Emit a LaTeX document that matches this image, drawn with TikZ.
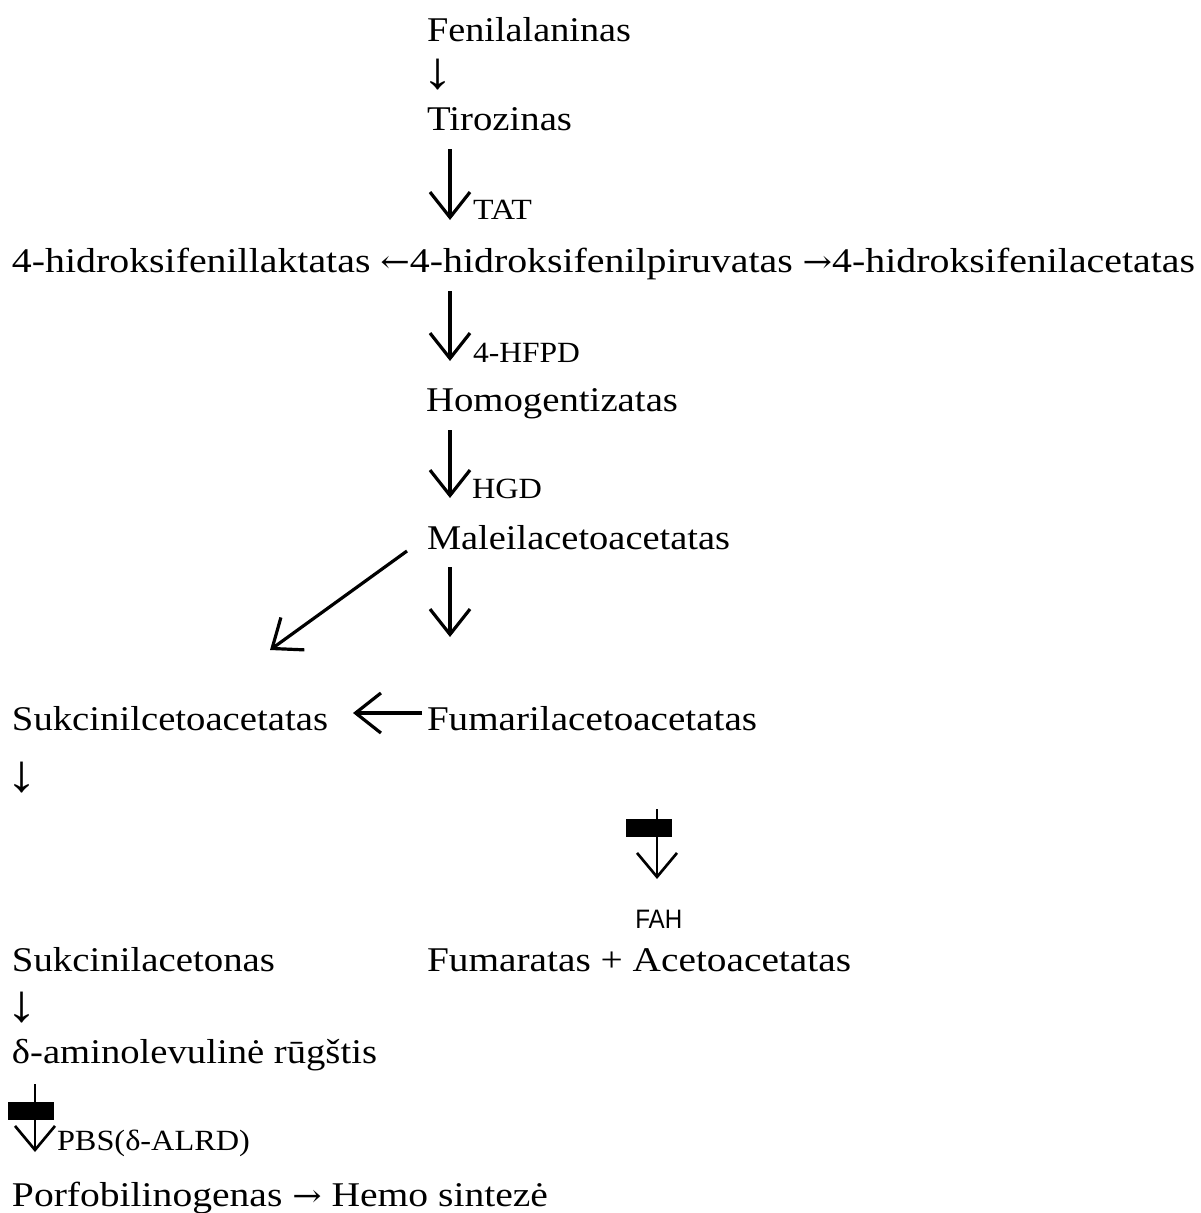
\documentclass[tikz,border=0pt]{standalone}
\usepackage{fontspec}
\usepackage{graphicx}
\setmainfont{Liberation Serif}
\newfontfamily\labsans{Liberation Sans}
\newfontfamily\arrf{DejaVu Serif}
\usetikzlibrary{arrows.meta}
\newdimen\pxu \pxu=0.75pt
\newcommand\fitto[2]{\resizebox{#1\pxu}{\height}{#2}}
\newcommand\ar[1]{{\arrf\fontsize{23}{26}\selectfont #1}}
\newcommand\downglyph{\resizebox*{31\pxu}{31\pxu}{\fontsize{26}{30}\selectfont ↓}}
\tikzset{
  txt/.style={anchor=base west, inner sep=0pt, outer sep=0pt, font=\fontsize{26}{30}\selectfont},
  lab/.style={anchor=base west, inner sep=0pt, outer sep=0pt, font=\fontsize{22}{26}\selectfont},
  glyph/.style={anchor=south west, inner sep=0pt, outer sep=0pt},
  bigarr/.style={line width=2.4pt, -{Straight Barb[length=19pt,width=30pt]}},
  blkarr/.style={line width=2pt, -{Straight Barb[length=18pt,width=30pt]}},
  blk/.style={fill=black, inner sep=0pt, outer sep=0pt, minimum width=34.5pt, minimum height=14pt}
}
\begin{document}
\begin{tikzpicture}[x=0.75pt,y=-0.75pt]
\useasboundingbox (0,0) rectangle (1200,1213);
% texts
\node[txt] (fen) at (427,41) {\fitto{204}{Fenilalaninas}};
\node[glyph] (d1) at (422,90) {\downglyph};
\node[txt] (tir) at (427,130) {\fitto{145}{Tirozinas}};
\node[lab] (tat) at (473,219) {\fitto{59}{TAT}};
\node[txt] (row) at (12,272) {\fitto{1183}{4-hidroksifenillaktatas \ar{←}4-hidroksifenilpiruvatas \ar{→}4-hidroksifenilacetatas}};
\node[lab] (hfpd) at (473,362) {\fitto{107}{4-HFPD}};
\node[txt] (hom) at (426,411) {\fitto{252}{Homogentizatas}};
\node[lab] (hgd) at (472,498) {\fitto{70}{HGD}};
\node[txt] (mal) at (427,549) {\fitto{303}{Maleilacetoacetatas}};
\node[txt] (suk) at (12,730) {\fitto{316}{Sukcinilcetoacetatas}};
\node[txt] (fum) at (427,730) {\fitto{330}{Fumarilacetoacetatas}};
\node[glyph] (d2) at (7,793) {\downglyph};
\node[anchor=base west, inner sep=0pt, font=\labsans\fontsize{20}{24}\selectfont] (fah) at (635,928) {\fitto{47}{FAH}};
\node[txt] (sac) at (12,971) {\fitto{263}{Sukcinilacetonas}};
\node[txt] (fa) at (427,971) {\fitto{424}{Fumaratas + Acetoacetatas}};
\node[glyph] (d3) at (7,1023) {\downglyph};
\node[txt] (ala) at (12,1063) {\fitto{365}{δ-aminolevulinė rūgštis}};
\node[lab] (pbs) at (57,1150) {\fitto{193}{PBS(δ-ALRD)}};
\node[txt] (por) at (12,1206) {\fitto{536}{Porfobilinogenas \ar{→} Hemo sintezė}};
% arrow end points
\coordinate (a1s) at (450,149); \coordinate (a1e) at (450,220);
\coordinate (a2s) at (450,291); \coordinate (a2e) at (450,361);
\coordinate (a3s) at (450,430); \coordinate (a3e) at (450,498);
\coordinate (a4s) at (407,551); \coordinate (a4e) at (270,650);
\coordinate (a5s) at (450,567); \coordinate (a5e) at (450,637);
\coordinate (a6s) at (422,713); \coordinate (a6e) at (353,713);
\coordinate (a7s) at (657,809); \coordinate (a7e) at (657,879);
\coordinate (a8s) at (35,1084); \coordinate (a8e) at (35,1152);
% arrows
\draw[bigarr] (a1s) -- (a1e);
\draw[bigarr] (a2s) -- (a2e);
\draw[bigarr] (a3s) -- (a3e);
\draw[bigarr] (a4s) -- (a4e);
\draw[bigarr] (a5s) -- (a5e);
\draw[bigarr] (a6s) -- (a6e);
% blocked arrows
\draw[blkarr] (a7s) -- (a7e);
\node[blk] (b1) at (649,828) {};
\draw[blkarr] (a8s) -- (a8e);
\node[blk] (b2) at (31,1111) {};
\end{tikzpicture}
\end{document}
